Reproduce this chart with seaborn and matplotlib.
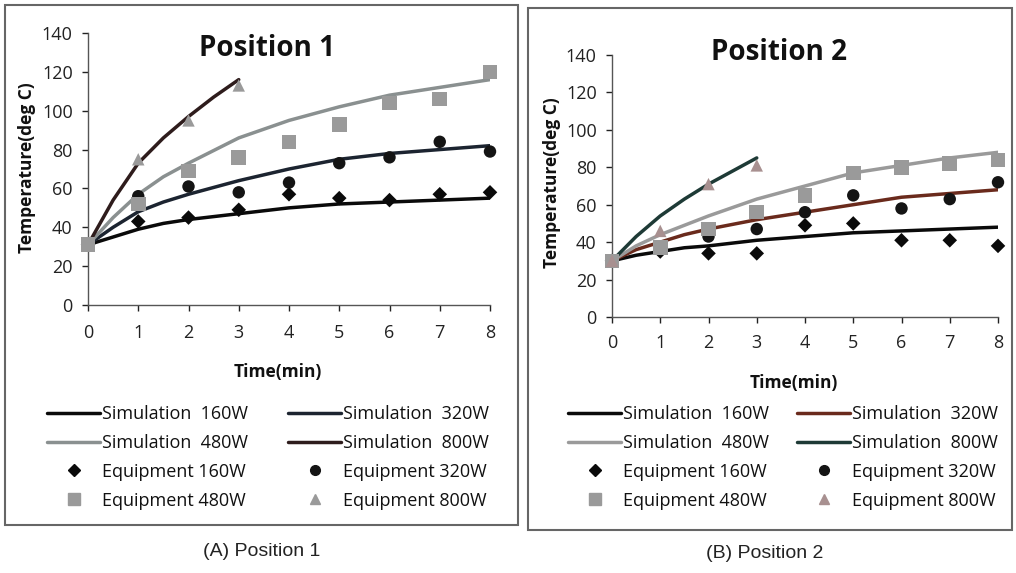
import matplotlib
matplotlib.use("Agg")
import matplotlib.pyplot as plt
import seaborn as sns
from matplotlib.lines import Line2D
from matplotlib.patches import Rectangle

sns.set_theme(style="white")
plt.rcParams['font.family'] = ['Open Sans', 'DejaVu Sans']

# ---------------- data ----------------
t_eq = [0, 1, 2, 3, 4, 5, 6, 7, 8]
t_eq800 = [0, 1, 2, 3]
t_sim = [0, 0.5, 1, 1.5, 2, 3, 4, 5, 6, 7, 8]
t_sim800 = [0, 0.5, 1, 1.5, 2, 2.5, 3]

# Position 1
p1_sim160 = [31, 35, 39, 42, 44, 47, 50, 52, 53, 54, 55]
p1_sim320 = [31, 40, 48, 53, 57, 64, 70, 75, 78, 80, 82]
p1_sim480 = [31, 45, 57, 66, 73, 86, 95, 102, 108, 112, 116]
p1_sim800 = [31, 54, 73, 86, 97, 107, 116]
p1_eq160 = [31, 43, 45, 49, 57, 55, 54, 57, 58]
p1_eq320 = [31, 56, 61, 58, 63, 73, 76, 84, 79]
p1_eq480 = [31, 52, 69, 76, 84, 93, 104, 106, 120]
p1_eq800 = [31, 75, 95, 113]

# Position 2
p2_sim160 = [30, 33, 35, 37, 38, 41, 43, 45, 46, 47, 48]
p2_sim320 = [30, 36, 40, 44, 47, 52, 56, 60, 64, 66, 68]
p2_sim480 = [30, 38, 44, 49, 54, 63, 70, 77, 81, 85, 88]
p2_sim800 = [30, 43, 54, 63, 71, 78, 85]
p2_eq160 = [30, 35, 34, 34, 49, 50, 41, 41, 38]
p2_eq320 = [30, 36, 43, 47, 56, 65, 58, 63, 72]
p2_eq480 = [30, 37, 47, 56, 65, 77, 80, 82, 84]
p2_eq800 = [30, 46, 71, 81]

x_ticks = [0, 1, 2, 3, 4, 5, 6, 7, 8]
y_ticks = [0, 20, 40, 60, 80, 100, 120, 140]
labels_sim = ["Simulation  160W", "Simulation  320W", "Simulation  480W", "Simulation  800W"]
labels_eq = ["Equipment 160W", "Equipment 320W", "Equipment 480W", "Equipment 800W"]

W, H = 1016, 573
fig = plt.figure(figsize=(W / 100, H / 100), dpi=100)
fig.patch.set_facecolor("white")


def fx(x):
    return x / W


def fy(y):
    return 1 - y / H


def panel(ax_box, sims, eqs, sim_colors, eq_colors, title, title_xy, xlabel_xy, ylabel_xy,
          leg_cols, leg_top, xpad, caption, caption_xy, frame):
    l, t, r, b = ax_box
    ax = fig.add_axes([fx(l), fy(b), fx(r - l), (b - t) / H])
    ax.set_facecolor("white")
    times = [t_sim, t_sim, t_sim, t_sim800]
    for tt, yy, c, lab in zip(times, sims, sim_colors, labels_sim):
        sns.lineplot(x=tt, y=yy, ax=ax, color=c, linewidth=2.5, label=lab, legend=False)
    markers = ["D", "o", "s", "^"]
    sizes = [55, 80, 110, 80]
    etimes = [t_eq, t_eq, t_eq, t_eq800]
    for tt, yy, c, m, s, lab in zip(etimes, eqs, eq_colors, markers, sizes, labels_eq):
        sns.scatterplot(x=tt, y=yy, ax=ax, color=c, marker=m, s=s, edgecolor="none",
                        label=lab, legend=False, clip_on=False, zorder=3)
    ax.set_xlim(0, 8)
    ax.set_ylim(0, 140)
    ax.set_xticks(x_ticks)
    ax.set_yticks(y_ticks)
    ax.tick_params(axis="both", labelsize=13, direction="out", length=4, width=1,
                   bottom=True, left=True, colors="#222222")
    ax.tick_params(axis="x", pad=xpad)
    ax.tick_params(axis="y", pad=7)
    for s in ["top", "right"]:
        ax.spines[s].set_visible(False)
    for s in ["left", "bottom"]:
        ax.spines[s].set_color("#555555")
        ax.spines[s].set_linewidth(1)
    ax.set_xlabel("")
    ax.set_ylabel("")
    fig.text(fx(title_xy[0]), fy(title_xy[1]), title, fontsize=20, fontweight="bold",
             ha="center", va="center", color="#111111")
    fig.text(fx(xlabel_xy[0]), fy(xlabel_xy[1]), "Time(min)", fontsize=12.5, fontweight="bold",
             ha="center", va="center", color="#111111")
    fig.text(fx(ylabel_xy[0]), fy(ylabel_xy[1]), "Temperature(deg C)", fontsize=12.5,
             fontweight="bold", ha="center", va="center", rotation=90, color="#111111")
    col1 = [
        Line2D([], [], color=sim_colors[0], lw=2.5, label=labels_sim[0]),
        Line2D([], [], color=sim_colors[2], lw=2.5, label=labels_sim[2]),
        Line2D([], [], color=eq_colors[0], marker="D", ls="none", markersize=6, label=labels_eq[0]),
        Line2D([], [], color=eq_colors[2], marker="s", ls="none", markersize=8, label=labels_eq[2]),
    ]
    col2 = [
        Line2D([], [], color=sim_colors[1], lw=2.5, label=labels_sim[1]),
        Line2D([], [], color=sim_colors[3], lw=2.5, label=labels_sim[3]),
        Line2D([], [], color=eq_colors[1], marker="o", ls="none", markersize=7, label=labels_eq[1]),
        Line2D([], [], color=eq_colors[3], marker="^", ls="none", markersize=7, label=labels_eq[3]),
    ]
    for hs, x0 in zip([col1, col2], leg_cols):
        fig.legend(handles=hs, ncol=1, loc="upper left",
                   bbox_to_anchor=(fx(x0), fy(leg_top)),
                   frameon=False, fontsize=13, handlelength=2.95, handletextpad=0.1,
                   labelspacing=0.6, borderpad=0, borderaxespad=0, labelcolor="#111111")
    fig.text(fx(caption_xy[0]), fy(caption_xy[1]), caption, fontsize=14,
             family="Liberation Sans", ha="center", va="center", color="#222222")
    fl, ft, fr, fb = frame
    fig.add_artist(Rectangle((fx(fl), fy(fb)), fx(fr - fl), (fb - ft) / H,
                             transform=fig.transFigure, fill=False,
                             edgecolor="#666666", linewidth=1.5))
    return ax


panel((88, 33, 490, 305),
      [p1_sim160, p1_sim320, p1_sim480, p1_sim800],
      [p1_eq160, p1_eq320, p1_eq480, p1_eq800],
      ["#0a0a0a", "#1c2430", "#8a9090", "#2e1c1c"],
      ["#0a0a0a", "#141414", "#9a9a9a", "#9a9a9a"],
      "Position 1", (267, 48), (278, 372), (27, 168),
      (47, 288), 405, 10, "(A) Position 1", (262, 551), (5, 5, 518, 525))

panel((612, 55, 998, 317),
      [p2_sim160, p2_sim320, p2_sim480, p2_sim800],
      [p2_eq160, p2_eq320, p2_eq480, p2_eq800],
      ["#0a0a0a", "#6a2a1c", "#9a9a9a", "#1e3a36"],
      ["#0a0a0a", "#141414", "#9a9a9a", "#a89090"],
      "Position 2", (779, 52), (794, 383), (552, 183),
      (568, 797), 405, 8, "(B) Position 2", (765, 553), (528, 8, 1012, 530))

fig.savefig("out.png", dpi=100, facecolor="white")
